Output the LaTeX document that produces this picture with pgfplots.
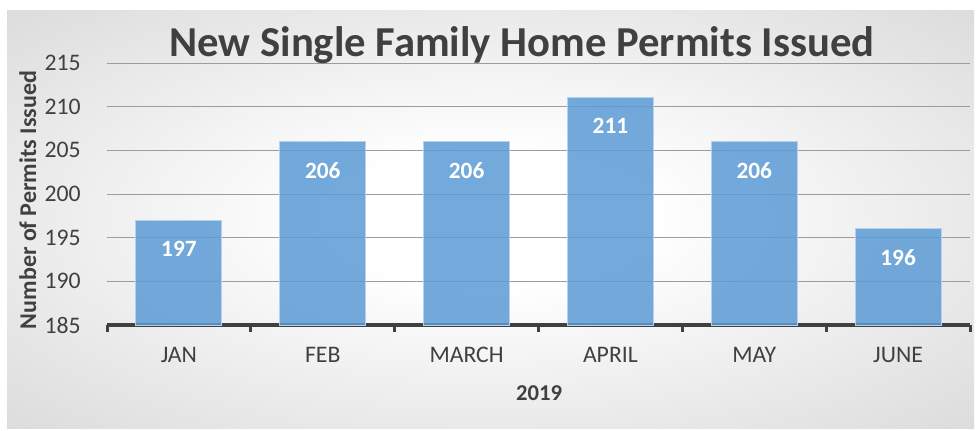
\documentclass[border=0pt]{standalone}
\usepackage{fontspec}
\setmainfont{Carlito}
\usepackage{pgfplots}
\pgfplotsset{compat=1.18}
\definecolor{txt}{HTML}{404040}
\definecolor{barblue}{HTML}{5B9BD5}
\definecolor{gridc}{HTML}{9C9C9C}
\pgfdeclareradialshading{bgshade}{\pgfpoint{0bp}{0bp}}{color(0bp)=(white); color(8bp)=(white); color(50bp)=(black!21); color(72bp)=(black!26)}
\begin{document}
\begin{tikzpicture}
\fill[white] (0,0) rectangle (735pt,322.5pt);
\shade[shading=bgshade] (5.25pt,1.5pt) rectangle (730.5pt,315pt);
\begin{axis}[
  at={(80.25pt,78.75pt)}, anchor=south west,
  scale only axis, width=647.25pt, height=196.5pt,
  xmin=-0.5, xmax=5.5, ymin=185, ymax=215,
  ytick={185,190,...,215},
  xtick={-0.5,0.5,...,5.5},
  x tick label as interval,
  xticklabels={JAN,FEB,MARCH,APRIL,MAY,JUNE},
  axis x line*=bottom, axis y line*=left,
  y axis line style={draw=none},
  x axis line style={line width=3pt, draw=txt, -},
  tick align=outside,
  xtick style={line width=2.25pt, draw=txt},
  ytick style={draw=none},
  major tick length=5.25pt,
  ymajorgrids, grid style={gridc, line width=0.75pt},
  /pgf/number format/assume math mode=true,
  ticklabel style={font=\fontsize{17.8}{17.8}\selectfont, text=txt},
  yticklabel style={xshift=-11pt},
  xticklabel style={yshift=-8pt},
  clip=false,
]
\addplot[ybar, bar width=64.5pt, fill=barblue, fill opacity=0.85, draw=white!55!barblue, line width=0.75pt,
  nodes near coords,
  nodes near coords style={font=\bfseries\fontsize{17.5}{17.5}\selectfont, text=white, text opacity=1, anchor=north, inner sep=0pt, yshift=-15pt}]
  coordinates {(0,197) (1,206) (2,206) (3,211) (4,206) (5,196)};
\end{axis}
\node[anchor=base, font=\bfseries\fontsize{32}{32}\selectfont, text=txt] at (391.5pt,280pt) {New Single Family Home Permits Issued};
\node[anchor=base, rotate=90, font=\bfseries\fontsize{18}{18}\selectfont, text=txt] at (27pt,172.5pt) {Number of Permits Issued};
\node[anchor=base, font=\bfseries\fontsize{17}{17}\selectfont, text=txt] at (404.25pt,22.5pt) {2019};
\end{tikzpicture}
\end{document}
